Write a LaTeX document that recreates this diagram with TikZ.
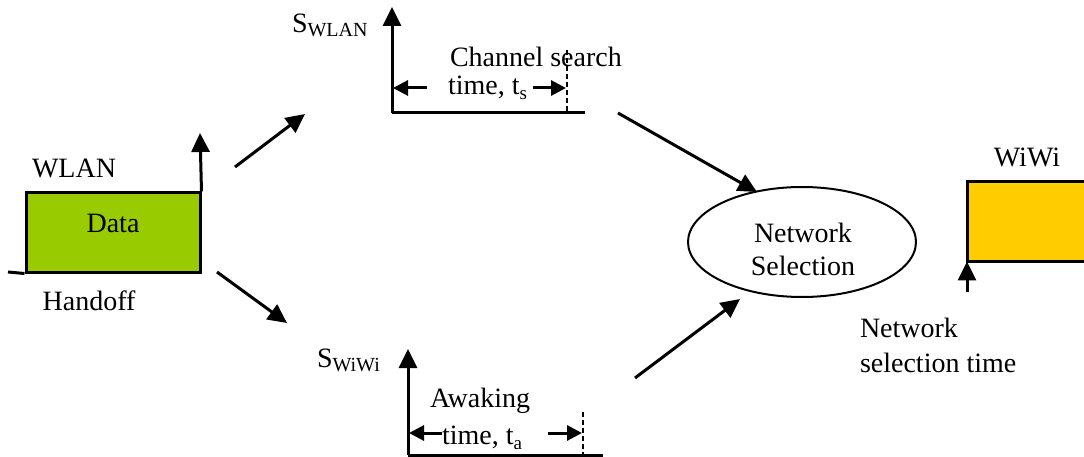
\documentclass[tikz,border=0pt]{standalone}
\usepackage{fontspec}
\setmainfont{Liberation Serif}
\usetikzlibrary{arrows.meta,shapes.geometric}
\definecolor{wlangreen}{RGB}{153,204,0}
\definecolor{wiwiyellow}{RGB}{255,204,0}
\newcommand{\subtxt}[1]{\raisebox{-4pt}{\fontsize{20}{20}\selectfont #1}}
\newcommand{\smallsub}[1]{\raisebox{-5pt}{\fontsize{19}{19}\selectfont #1}}
\begin{document}
\begin{tikzpicture}[x=1pt,y=-1pt,
  font=\fontsize{28}{33}\selectfont,
  txt/.style={inner sep=0pt, outer sep=0pt},
  bigarrow/.style={line width=3pt, -{Triangle[length=19pt,width=18pt]}},
  smallarrow/.style={line width=3pt, -{Triangle[length=15pt,width=15pt]}},
  axisline/.style={line width=3pt},
  dashline/.style={line width=1.8pt, dash pattern=on 5pt off 3pt}]
\useasboundingbox (0,0) rectangle (1084,457);

% WLAN block
\node[draw, line width=3pt, fill=wlangreen, minimum width=174pt, minimum height=79pt, inner sep=0pt] (wlanbox) at (113,232.5) {};
\coordinate (wlanleft) at (8,272);
\coordinate (wlantop) at (200,133);
\draw[axisline] (wlanleft) -- (wlanbox.south west);
\draw[bigarrow] (wlanbox.north east) -- (wlantop);
\node[txt, anchor=base] (wlanlbl) at (74,178) {WLAN};
\node[txt, anchor=base] (data) at (113,233) {Data};
\node[txt, anchor=base] (handoff) at (89,310) {Handoff};

% branch arrows
\coordinate (up1) at (235,167);
\coordinate (up2) at (305,114);
\coordinate (dn1) at (217,272);
\coordinate (dn2) at (287,323);
\draw[bigarrow] (up1) -- (up2);
\draw[bigarrow] (dn1) -- (dn2);

% S_WLAN axes
\coordinate (sw0) at (392,113);
\coordinate (swtop) at (392,7);
\coordinate (swend) at (585,113);
\coordinate (swdash) at (567,50);
\coordinate (swdashb) at (567,113);
\draw[axisline] (sw0) -- (swend);
\draw[bigarrow] (sw0) -- (swtop);
\draw[dashline] (swdash) -- (swdashb);
\coordinate (tsl1) at (427,88);
\coordinate (tsl2) at (393,88);
\coordinate (tsr1) at (533,88);
\coordinate (tsr2) at (566,88);
\draw[smallarrow] (tsl1) -- (tsl2);
\draw[smallarrow] (tsr1) -- (tsr2);
\node[txt, anchor=base west] (swlan) at (292,33) {S\subtxt{WLAN}};
\node[txt, anchor=base west] (chs) at (450,67) {Channel search};
\node[txt, anchor=base west] (ts) at (448,95) {time, t\smallsub{s}};

% S_WiWi axes
\coordinate (si0) at (408,455);
\coordinate (sitop) at (408,349);
\coordinate (siend) at (603,455);
\coordinate (sidash) at (583,412);
\coordinate (sidashb) at (583,457);
\draw[axisline] (si0) -- (siend);
\draw[bigarrow] (si0) -- (sitop);
\draw[dashline] (sidash) -- (sidashb);
\coordinate (tal1) at (442,433);
\coordinate (tal2) at (409,433);
\coordinate (tar1) at (548,433);
\coordinate (tar2) at (582,433);
\draw[smallarrow] (tal1) -- (tal2);
\draw[smallarrow] (tar1) -- (tar2);
\node[txt, anchor=base west] (swiwi) at (317,367) {S\subtxt{WiWi}};
\node[txt, anchor=base west] (awk) at (430,407) {Awaking};
\node[txt, anchor=base west] (ta) at (442,444) {time, t\smallsub{a}};

% Network selection
\node[draw, ellipse, line width=2pt, minimum width=228pt, minimum height=110pt, inner sep=0pt] (ns) at (802,242) {};
\node[txt, align=center] (nstext) at (803,249) {Network\\Selection};
\coordinate (in1) at (618,113);
\coordinate (in1t) at (757,192);
\coordinate (in2) at (635,378);
\coordinate (in2t) at (740,299);
\draw[bigarrow] (in1) -- (in1t);
\draw[bigarrow] (in2) -- (in2t);

% WiWi block
\node[fill=wiwiyellow, minimum width=120pt, minimum height=79pt, inner sep=0pt, anchor=north west] (wiwibox) at (967,182) {};
\draw[line width=3pt] (wiwibox.north east) -- (wiwibox.north west) -- (wiwibox.south west) -- (wiwibox.south east);
\node[txt, anchor=base] (wiwilbl) at (1027,167) {WiWi};
\coordinate (nst) at (967,292);
\draw[bigarrow] (nst) -- (wiwibox.south west);
\node[txt, anchor=base west] (nstime1) at (860,337) {Network};
\node[txt, anchor=base west] (nstime2) at (860,372) {selection time};
\end{tikzpicture}
\end{document}
